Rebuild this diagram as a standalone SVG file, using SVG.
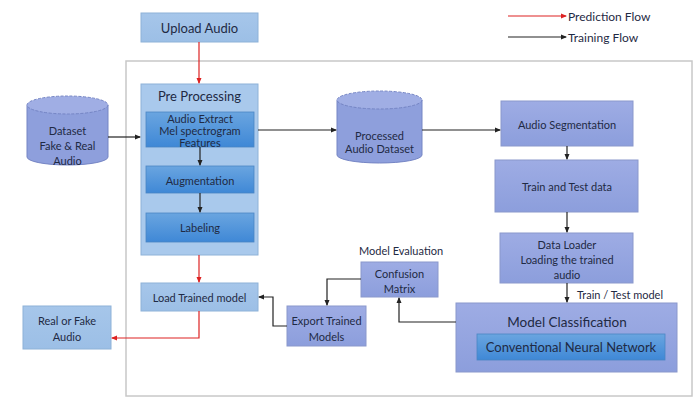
<svg xmlns="http://www.w3.org/2000/svg" width="700" height="398" viewBox="0 0 700 398">
<defs>
<linearGradient id="gLight" x1="0" y1="0" x2="0" y2="1"><stop offset="0" stop-color="#a6c6ea"/><stop offset="1" stop-color="#9cbfe6"/></linearGradient>
<linearGradient id="gPurple" x1="0" y1="0" x2="0" y2="1"><stop offset="0" stop-color="#9eace4"/><stop offset="1" stop-color="#8c9edc"/></linearGradient>
<linearGradient id="gSub" x1="0" y1="0" x2="0" y2="1"><stop offset="0" stop-color="#6aa5e0"/><stop offset="1" stop-color="#3f88d6"/></linearGradient>
<marker id="ab" viewBox="0 0 6 6" refX="5" refY="3" markerWidth="5" markerHeight="5" orient="auto"><path d="M0,0.5 L6,3 L0,5.5 z" fill="#222"/></marker>
<marker id="ar" viewBox="0 0 6 6" refX="5" refY="3" markerWidth="5" markerHeight="5" orient="auto"><path d="M0,0.5 L6,3 L0,5.5 z" fill="#d22"/></marker>
</defs>
<style>
text{font-family:Lato,"Liberation Sans",sans-serif;fill:#1f2a44;text-anchor:middle;dominant-baseline:central}
.t13{font-size:13px}.t11{font-size:11px}.t12{font-size:12px}.t14{font-size:13.5px}.cnn{font-size:13px}
.light{fill:url(#gLight);stroke:#8eb2d8;stroke-width:1}
.purple{fill:url(#gPurple);stroke:#8a98cc;stroke-width:1}
.sub{fill:url(#gSub);stroke:#4a86c4;stroke-width:0.8}
.cyl{fill:#8e9fdc;stroke:#7585c4;stroke-width:1}
.bk{fill:none;stroke:#222;stroke-width:1.2;marker-end:url(#ab)}
.rd{fill:none;stroke:#d22;stroke-width:1.2;marker-end:url(#ar)}
</style>
<rect x="0" y="0" width="700" height="398" fill="#fff"/>
<rect id="container" x="126" y="61" width="566" height="335" fill="none" stroke="#c8c8c8" stroke-width="1.5"/>

<g id="legend">
<line x1="508" y1="16" x2="566" y2="16" class="rd"/>
<text x="568" y="16" class="t12" style="text-anchor:start">Prediction Flow</text>
<line x1="508" y1="37" x2="566" y2="37" class="bk"/>
<text x="568" y="37" class="t12" style="text-anchor:start">Training Flow</text>
</g>

<g id="upload"><rect x="141" y="13" width="117" height="29" class="light"/><text x="199.5" y="28" class="t13">Upload Audio</text></g>

<g id="preprocessing">
<rect x="141" y="84" width="117" height="171" fill="#a9c9ec" stroke="#8eb2d8"/>
<text x="199.5" y="96" class="t13">Pre Processing</text>
<rect x="146" y="112" width="108" height="35" class="sub"/>
<text x="200" y="118" class="t11">Audio Extract</text>
<text x="200" y="130" class="t11">Mel spectrogram</text>
<text x="200" y="142" class="t11">Features</text>
<rect x="146" y="166" width="108" height="27" class="sub"/>
<text x="200" y="180" class="t11">Augmentation</text>
<rect x="146" y="213" width="108" height="29" class="sub"/>
<text x="200" y="227" class="t11">Labeling</text>
</g>

<g id="dataset">
<path d="M27,105 L27,157 A40.5,8 0 0 0 108,157 L108,105" class="cyl"/>
<ellipse cx="67.5" cy="105" rx="40.5" ry="9" fill="#a0aee4" stroke="#7585c4" stroke-dasharray="3,1.5"/>
<text x="67.5" y="130" class="t11">Dataset</text>
<text x="67.5" y="145" class="t11">Fake &amp; Real</text>
<text x="67.5" y="160" class="t11">Audio</text>
</g>

<g id="processed">
<path d="M337,100 L337,155 A42.5,8 0 0 0 422,155 L422,100" class="cyl"/>
<ellipse cx="379.5" cy="100" rx="42.5" ry="9" fill="#a0aee4" stroke="#7585c4" stroke-dasharray="3,1.5"/>
<text x="379.5" y="135" class="t11">Processed</text>
<text x="379.5" y="148" class="t11">Audio Dataset</text>
</g>

<g id="segmentation"><rect x="501" y="101" width="132" height="45" class="purple"/><text x="567" y="124" class="t11">Audio Segmentation</text></g>
<g id="traintest"><rect x="495" y="160" width="143" height="52" class="purple"/><text x="567" y="186" class="t11">Train and Test data</text></g>
<g id="dataloader"><rect x="500" y="233" width="133" height="50" class="purple"/>
<text x="567" y="244" class="t11">Data Loader</text><text x="567" y="259" class="t11">Loading the trained</text><text x="567" y="274" class="t11">audio</text></g>
<text x="620" y="294" class="t11">Train / Test model</text>

<g id="classification"><rect x="456" y="303" width="221" height="69" class="purple"/>
<text x="567" y="322" class="t14">Model Classification</text>
<rect x="477" y="334" width="188" height="26" class="sub"/>
<text x="571" y="347" class="cnn">Conventional Neural Network</text></g>

<g id="confusion"><rect x="361" y="262" width="77" height="35" class="purple"/>
<text x="399.5" y="273" class="t11">Confusion</text><text x="399.5" y="288" class="t11">Matrix</text></g>
<text x="401" y="250" class="t11">Model Evaluation</text>

<g id="export"><rect x="287" y="306" width="79" height="40" class="purple"/>
<text x="326.5" y="320" class="t11">Export Trained</text><text x="326.5" y="336" class="t11">Models</text></g>

<g id="loadmodel"><rect x="141" y="283" width="117" height="28" class="light"/><text x="199.5" y="297" class="t11">Load Trained  model</text></g>

<g id="realfake"><rect x="23" y="306" width="88" height="43" class="light"/>
<text x="67" y="320" class="t11">Real or Fake</text><text x="67" y="336" class="t11">Audio</text></g>

<g id="connectors">
<path d="M199,42 V83" class="rd"/>
<path d="M108,137 H140" class="bk"/>
<path d="M258,130 H336" class="bk"/>
<path d="M422,130 H500" class="bk"/>
<path d="M200,147 V165" class="bk"/>
<path d="M200,193 V212" class="bk"/>
<path d="M567,146 V159" class="bk"/>
<path d="M567,212 V232" class="bk"/>
<path d="M567,283 V302" class="bk"/>
<path d="M456,322 H399 V298" class="bk"/>
<path d="M361,279 H327 V305" class="bk"/>
<path d="M287,326 H273 V297 H259" class="bk"/>
<path d="M199,255 V282" class="rd"/>
<path d="M199,311 V338 H112" class="rd"/>
</g>
</svg>
